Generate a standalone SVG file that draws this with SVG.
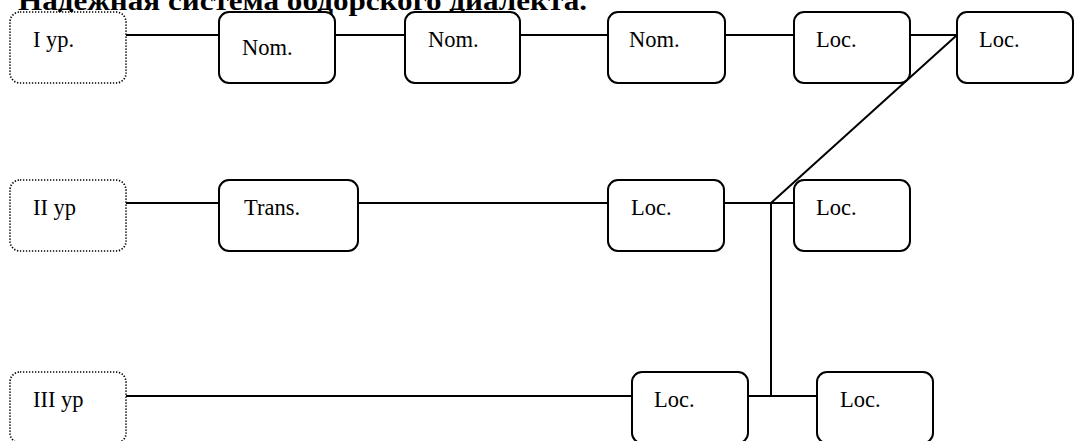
<svg xmlns="http://www.w3.org/2000/svg" width="1080" height="441" viewBox="0 0 1080 441">
<style>
.n{fill:#fff;stroke:#000;stroke-width:2}
.lv{fill:#fff;stroke:#000;stroke-width:1.7;stroke-dasharray:1.3 1.7}
.t{font-family:"Liberation Serif","Times New Roman",serif;font-size:22.5px;fill:#000}
.ttl{font-family:"Liberation Serif","Times New Roman",serif;font-size:27px;font-weight:bold;fill:#000}
#connectors line{stroke:#000;stroke-width:2}
</style>
<rect width="1080" height="441" fill="#fff"/>
<text class="ttl" x="18" y="10" textLength="569" lengthAdjust="spacingAndGlyphs">Надежная система обдорского диалекта.</text>
<g id="connectors">
<line x1="126" y1="35" x2="219" y2="35"/>
<line x1="335" y1="35" x2="405" y2="35"/>
<line x1="520" y1="35" x2="608" y2="35"/>
<line x1="725" y1="35" x2="794" y2="35"/>
<line x1="910" y1="35" x2="957" y2="35"/>
<line x1="957" y1="35" x2="771" y2="203"/>
<line x1="126" y1="203" x2="219" y2="203"/>
<line x1="358" y1="203" x2="608" y2="203"/>
<line x1="724" y1="203" x2="794" y2="203"/>
<line x1="771" y1="203" x2="771" y2="396"/>
<line x1="126" y1="396" x2="632" y2="396"/>
<line x1="748" y1="396" x2="817" y2="396"/>
</g>
<g id="lvl1"><rect class="lv" x="10" y="12" width="116" height="71" rx="10"/><text class="t" x="33" y="47">I yp.</text></g>
<g id="nom1"><rect class="n" x="219" y="12" width="116" height="71" rx="10"/><text class="t" x="242" y="55">Nom.</text></g>
<g id="nom2"><rect class="n" x="405" y="12" width="115" height="71" rx="10"/><text class="t" x="428" y="47">Nom.</text></g>
<g id="nom3"><rect class="n" x="608" y="12" width="117" height="71" rx="10"/><text class="t" x="629" y="47">Nom.</text></g>
<g id="loc1a"><rect class="n" x="794" y="12" width="116" height="71" rx="10"/><text class="t" x="816" y="47">Loc.</text></g>
<g id="loc1b"><rect class="n" x="957" y="12" width="116" height="71" rx="10"/><text class="t" x="979" y="47">Loc.</text></g>
<g id="lvl2"><rect class="lv" x="10" y="180" width="116" height="71" rx="10"/><text class="t" x="33" y="215">II yp</text></g>
<g id="trans"><rect class="n" x="219" y="180" width="139" height="71" rx="10"/><text class="t" x="244" y="215">Trans.</text></g>
<g id="loc2a"><rect class="n" x="608" y="180" width="116" height="71" rx="10"/><text class="t" x="631" y="215">Loc.</text></g>
<g id="loc2b"><rect class="n" x="794" y="180" width="116" height="71" rx="10"/><text class="t" x="816" y="215">Loc.</text></g>
<g id="lvl3"><rect class="lv" x="10" y="372" width="116" height="71" rx="10"/><text class="t" x="33" y="407">III yp</text></g>
<g id="loc3a"><rect class="n" x="632" y="372" width="116" height="71" rx="10"/><text class="t" x="654" y="407">Loc.</text></g>
<g id="loc3b"><rect class="n" x="817" y="372" width="116" height="71" rx="10"/><text class="t" x="840" y="407">Loc.</text></g>
</svg>
